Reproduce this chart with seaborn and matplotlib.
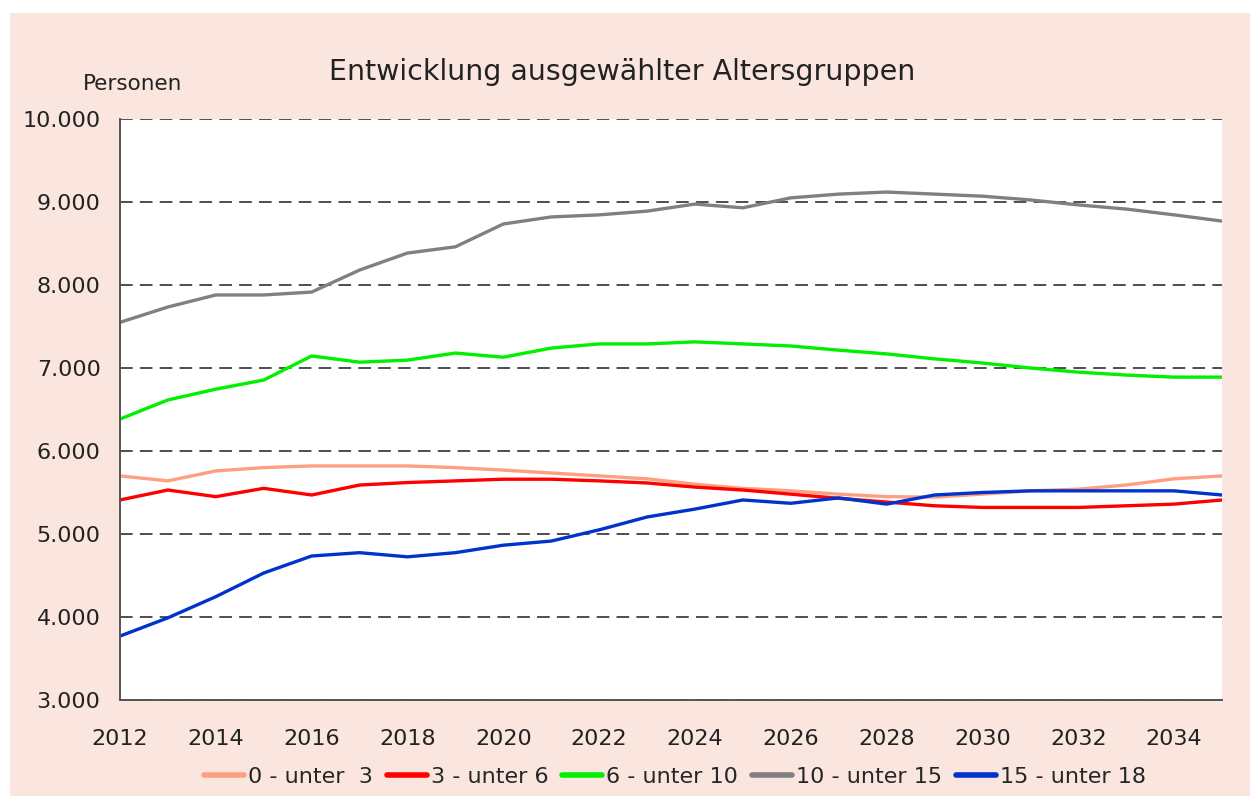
import numpy as np
import pandas as pd
import matplotlib
matplotlib.use('Agg')
import matplotlib.pyplot as plt
import seaborn as sns
from matplotlib.patches import Rectangle

# --- DATEN ---
jahre = list(range(2012, 2036))
gruppen = ['0 - unter  3', '3 - unter 6', '6 - unter 10', '10 - unter 15', '15 - unter 18']
farben = ['#FF9F80', '#FF0000', '#00F000', '#808080', '#0033CC']

g_0_3 = [5700, 5640, 5760, 5800, 5820, 5820, 5820, 5800, 5770, 5735, 5700, 5665,
         5600, 5550, 5520, 5480, 5450, 5445, 5480, 5520, 5540, 5590, 5665, 5700]
g_3_6 = [5410, 5530, 5450, 5550, 5470, 5590, 5620, 5640, 5660, 5660, 5640, 5615,
         5565, 5530, 5480, 5430, 5385, 5340, 5320, 5320, 5320, 5340, 5360, 5410]
g_6_10 = [6385, 6615, 6745, 6855, 7145, 7070, 7095, 7180, 7130, 7240, 7290, 7290,
          7315, 7290, 7265, 7215, 7170, 7110, 7060, 7000, 6950, 6915, 6890, 6890]
g_10_15 = [7550, 7735, 7880, 7880, 7915, 8180, 8385, 8460, 8735, 8820, 8845, 8890,
           8975, 8930, 9050, 9095, 9120, 9095, 9070, 9025, 8965, 8915, 8845, 8770]
g_15_18 = [3770, 3990, 4245, 4530, 4735, 4775, 4725, 4775, 4865, 4915, 5050, 5205,
           5300, 5410, 5370, 5435, 5360, 5470, 5500, 5520, 5520, 5520, 5520, 5470]

werte = [g_0_3, g_3_6, g_6_10, g_10_15, g_15_18]
dados = pd.DataFrame({
    'Jahr': jahre * len(gruppen),
    'Personen': sum(werte, []),
    'Gruppe': [g for g in gruppen for _ in jahre],
})

# --- PLOT ---
sns.set_style('white')
plt.rcParams['font.family'] = ['DejaVu Sans']

fig = plt.figure(figsize=(12.5, 7.96), dpi=100, facecolor='white')
fig.patches.append(Rectangle((10 / 1250, 0), 1, 1 - 13 / 796, transform=fig.transFigure,
                             facecolor='#FAE6DF', edgecolor='none', zorder=-10))
ax = fig.add_axes([120 / 1250, 1 - 700 / 796, 1102 / 1250, 581 / 796])
ax.set_facecolor('white')

sns.lineplot(data=dados, x='Jahr', y='Personen', hue='Gruppe', hue_order=gruppen,
             palette=farben, linewidth=2.4, ax=ax, legend=False)

ax.set_xlim(2012, 2035)
ax.set_ylim(3000, 10000)
ax.set_xticks(range(2012, 2036, 2))
ax.set_yticks(range(3000, 10001, 1000))
ax.set_yticklabels([f'{v:,}'.replace(',', '.') for v in range(3000, 10001, 1000)])
ax.tick_params(axis='y', labelsize=16, length=8, width=1.2, color='#404040',
               direction='out', pad=6, labelcolor='#222222')
ax.tick_params(axis='x', labelsize=16, length=0, pad=21, labelcolor='#222222')
ax.yaxis.grid(True, linestyle=(0, (7, 4)), color='#404040', linewidth=1.3)
ax.set_axisbelow(True)

for s in ['top', 'right']:
    ax.spines[s].set_visible(False)
for s in ['left', 'bottom']:
    ax.spines[s].set_color('#555555')
    ax.spines[s].set_linewidth(1.4)

ax.set_xlabel('')
ax.set_ylabel('')
fig.text(83 / 1250, 1 - 84 / 796, 'Personen', fontsize=15.5, va='center', ha='left', color='#222222')
fig.text(622 / 1250, 1 - 72 / 796, 'Entwicklung ausgewählter Altersgruppen', fontsize=20.5,
         va='center', ha='center', color='#222222')

handles = [plt.Line2D([], [], color=c, linewidth=4) for c in farben]
fig.legend(handles, gruppen, loc='center', bbox_to_anchor=(675 / 1250, 1 - 777 / 796),
           ncol=5, frameon=False, handlelength=1.8, handletextpad=0.2,
           columnspacing=0.6, prop={'size': 16})

plt.savefig('out.png', dpi=100, facecolor=fig.get_facecolor())
plt.close()
